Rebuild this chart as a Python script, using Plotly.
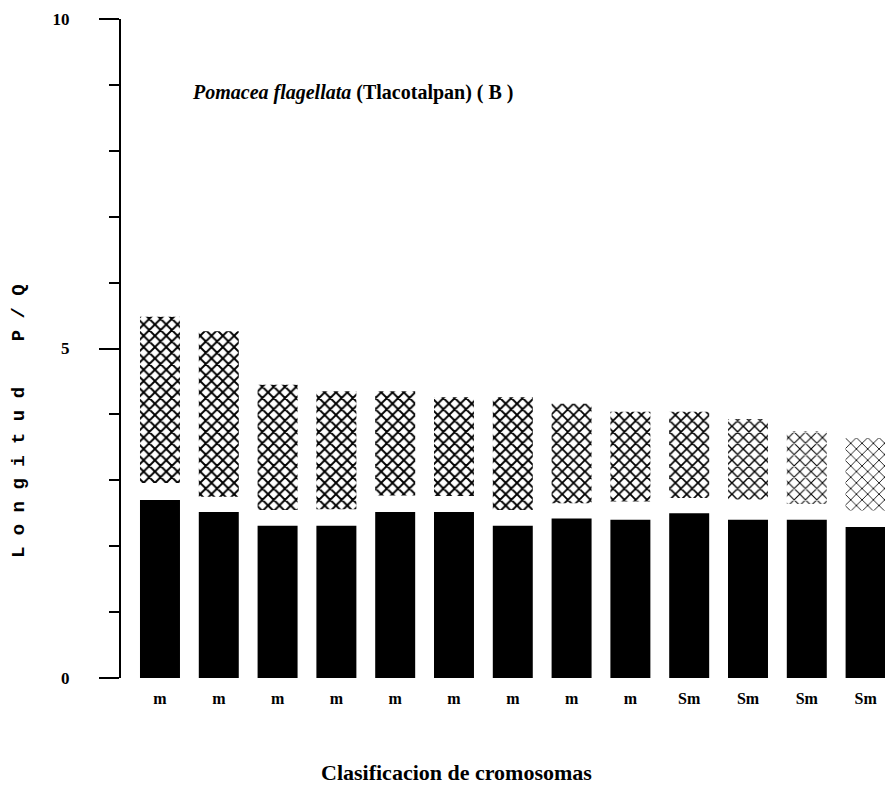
import plotly.graph_objects as go

# Data
labels = ["m", "m", "m", "m", "m", "m", "m", "m", "m", "Sm", "Sm", "Sm", "Sm"]
p_arm = [2.70, 2.52, 2.31, 2.31, 2.52, 2.52, 2.31, 2.42, 2.40, 2.50, 2.40, 2.40, 2.29]
q_start = [2.96, 2.75, 2.55, 2.56, 2.77, 2.76, 2.55, 2.65, 2.68, 2.73, 2.71, 2.64, 2.54]
q_end = [5.48, 5.26, 4.45, 4.35, 4.35, 4.26, 4.26, 4.16, 4.04, 4.04, 3.93, 3.74, 3.64]
pattern_density = [0.42, 0.42, 0.42, 0.42, 0.42, 0.42, 0.42, 0.4, 0.4, 0.38, 0.32, 0.24, 0.2]

x = list(range(len(labels)))
q_len = [e - s for s, e in zip(q_start, q_end)]

fig = go.Figure()
fig.add_trace(go.Bar(
    x=x, y=p_arm, width=0.68,
    marker=dict(color="black", line=dict(width=0)),
    showlegend=False,
))
fig.add_trace(go.Bar(
    x=x, y=q_len, base=q_start, width=0.68,
    marker=dict(
        color="white", line=dict(width=0),
        pattern=dict(shape="x", size=8, solidity=pattern_density,
                     fgcolor="black", bgcolor="white", fillmode="replace"),
    ),
    showlegend=False,
))

serif = "Liberation Serif, Times New Roman, serif"

fig.update_layout(
    width=885, height=788,
    margin=dict(l=121, r=0, t=19, b=110),
    paper_bgcolor="white", plot_bgcolor="white",
    barmode="overlay",
    font=dict(family=serif, color="black"),
    xaxis=dict(
        range=[-0.663, 12.33],
        tickmode="array", tickvals=x, ticktext=[f"<b>{t}</b>" for t in labels],
        showline=False, showgrid=False, zeroline=False, ticks="",
        tickfont=dict(family=serif, size=16, color="black"),
        ticklabelstandoff=9,
    ),
    yaxis=dict(
        range=[0, 10],
        tickmode="linear", tick0=0, dtick=5,
        showline=True, linewidth=2, linecolor="black",
        showgrid=False, zeroline=False,
        ticks="outside", ticklen=20, tickwidth=2, tickcolor="black",
        tickfont=dict(family=serif, size=17, color="black"),
        tickprefix="<b>", ticksuffix="</b>",
        ticklabelstandoff=26,
        minor=dict(dtick=1, tick0=0, ticks="outside", ticklen=10,
                   tickwidth=2, tickcolor="black", showgrid=False),
    ),
    annotations=[
        dict(text="<b><i>Pomacea flagellata</i> (Tlacotalpan) ( B )</b>",
             xref="paper", yref="paper",
             x=(190 - 121) / 764, y=(678 - 93) / 659,
             xanchor="left", yanchor="middle", showarrow=False,
             font=dict(family=serif, size=20, color="black")),
        dict(text="<b>L o n g i t u d    P / Q</b>",
             xref="paper", yref="paper",
             x=(19 - 121) / 764, y=(678 - 421) / 659,
             xanchor="center", yanchor="middle", textangle=-90, showarrow=False,
             font=dict(family="Liberation Mono, Courier New, monospace", size=19, color="black")),
        dict(text="<b>Clasificacion de cromosomas</b>",
             xref="paper", yref="paper",
             x=(456 - 121) / 764, y=-(772 - 678) / 659,
             xanchor="center", yanchor="middle", showarrow=False,
             font=dict(family=serif, size=22, color="black")),
    ],
)

fig.write_html("out.html")
